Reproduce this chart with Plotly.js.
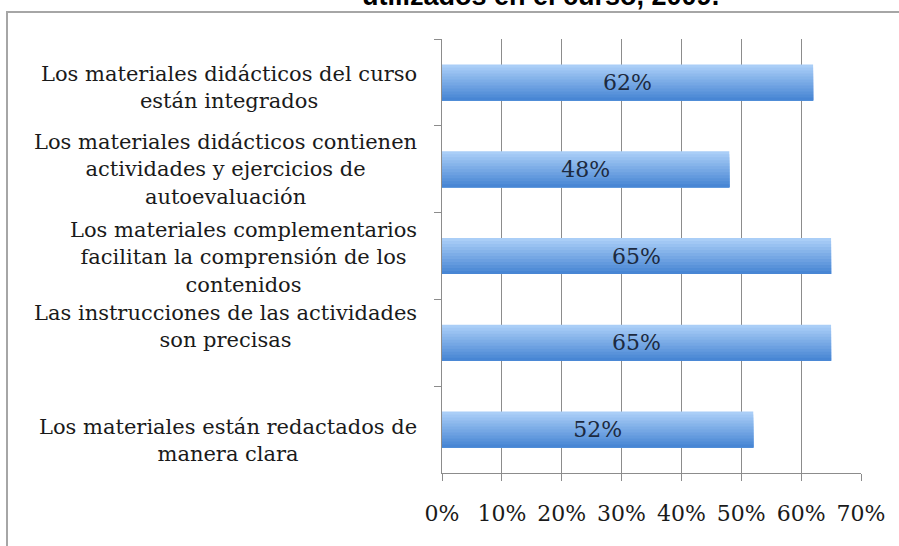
<!DOCTYPE html>
<html>
<head>
<meta charset="utf-8">
<script src="https://cdn.plot.ly/plotly-3.0.1.min.js"></script>
<style>html,body{margin:0;padding:0;background:#fff;}#chart{width:899px;height:546px;}</style>
</head>
<body>
<div id="chart"></div>
<script>
// ---- data ----
const categories = [
  "Los materiales didácticos del curso<br>están integrados",
  "Los materiales didácticos contienen<br>actividades y ejercicios de<br>autoevaluación",
  "Los materiales complementarios<br>facilitan la comprensión de los<br>contenidos",
  "Las instrucciones de las actividades<br>son precisas",
  "Los materiales están redactados de<br>manera clara"
];
const values = [0.62, 0.48, 0.65, 0.65, 0.52];
const xTickValues = [0, 0.1, 0.2, 0.3, 0.4, 0.5, 0.6, 0.7];
const titleText = "utilizados en el curso, 2009.";

// ---- layout helpers ----
const W = 899, H = 546;
const L = 442, R = 861, T = 39, B = 473;
const pw = R - L, ph = B - T;
const px2x = p => (p - L) / pw;
const py2y = p => 1 - (p - T) / ph;

const serif = "DejaVu Serif";
const barWidth = 0.415;
const nBands = 12;
const colTop = [170, 206, 247], colBot = [72, 134, 212];
const traces = [];
for (let i = 0; i < nBands; i++) {
  const t = i / (nBands - 1);
  const c = colTop.map((v, k) => Math.round(v + (colBot[k] - v) * t));
  const start = -barWidth / 2 + i * barWidth / nBands;
  traces.push({
    type: 'bar', orientation: 'h',
    x: values, y: categories,
    width: barWidth / 2 - start,
    offset: start,
    marker: {color: `rgb(${c[0]},${c[1]},${c[2]})`, line: {width: 0}},
    hoverinfo: 'skip', showlegend: false
  });
}
traces.push({
  type: 'bar', orientation: 'h',
  x: values, y: categories,
  width: barWidth, offset: -barWidth / 2,
  marker: {color: 'rgba(0,0,0,0)', line: {width: 0}},
  texttemplate: '%{x:.0%}', textposition: 'inside', insidetextanchor: 'middle',
  textfont: {family: serif, size: 22, color: '#1c2a40'},
  showlegend: false
});

const labelShift = [-5, 0, -1, 16, -11];
const annotations = categories.map((c, i) => ({
  xref: 'paper', yref: 'y', x: px2x(419), y: c, xanchor: 'right', yanchor: 'middle',
  align: 'center', text: c, showarrow: false, yshift: labelShift[i],
  font: {family: serif, size: 21, color: '#1a1a1a'}
}));
annotations.push({
  xref: 'paper', yref: 'paper', x: px2x(540), y: py2y(13), xanchor: 'center', yanchor: 'bottom',
  text: '<b>' + titleText + '</b>', showarrow: false,
  font: {family: 'Liberation Sans, Arial', size: 27, color: '#000'}
});

const layout = {
  width: W, height: H,
  margin: {l: L, r: W - R, t: T, b: H - B, pad: 0},
  paper_bgcolor: '#fff', plot_bgcolor: '#fff',
  barmode: 'overlay',
  xaxis: {
    range: [0, 0.7], tickvals: xTickValues, tickformat: '.0%',
    showgrid: true, gridcolor: '#8c8c8c', gridwidth: 1,
    showline: true, linecolor: '#8c8c8c', linewidth: 1,
    ticks: 'outside', ticklen: 7, tickcolor: '#8c8c8c', tickwidth: 1,
    ticklabelstandoff: 14,
    zeroline: false,
    tickfont: {family: serif, size: 22, color: '#1a1a1a'},
    fixedrange: true
  },
  yaxis: {
    type: 'category', categoryorder: 'array', categoryarray: categories,
    autorange: 'reversed',
    showticklabels: false, showgrid: false,
    showline: true, linecolor: '#8c8c8c', linewidth: 1,
    ticks: 'outside', tickson: 'boundaries', ticklen: 7, tickcolor: '#8c8c8c', tickwidth: 1,
    zeroline: false, fixedrange: true
  },
  shapes: [{
    type: 'rect', xref: 'paper', yref: 'paper',
    x0: px2x(7), x1: px2x(960), y0: py2y(12), y1: py2y(620),
    line: {color: '#a6a6a6', width: 2}, fillcolor: 'rgba(0,0,0,0)', layer: 'below'
  }],
  annotations: annotations,
  showlegend: false
};

Plotly.newPlot('chart', traces, layout, {displayModeBar: false, staticPlot: true});
</script>
</body>
</html>
